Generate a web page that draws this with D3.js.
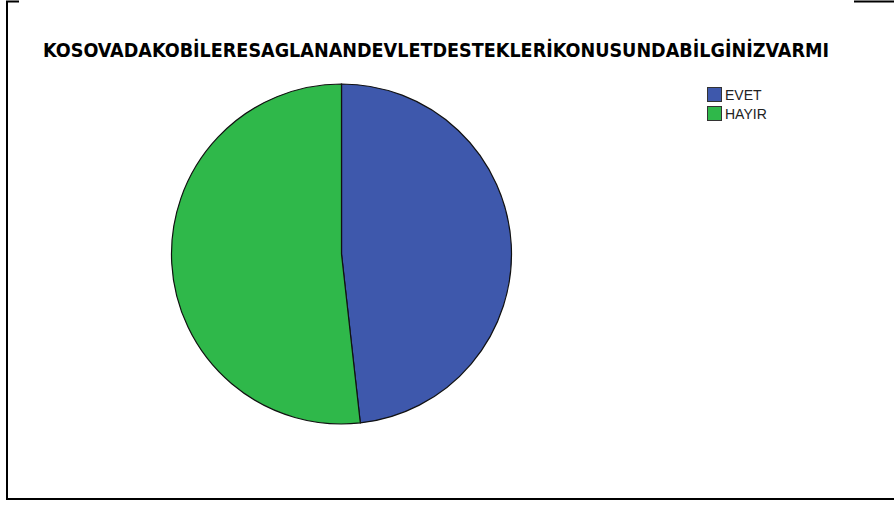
<!DOCTYPE html>
<html>
<head>
<meta charset="utf-8">
<script src="https://cdn.jsdelivr.net/npm/d3@7"></script>
<style>
  html, body { margin: 0; padding: 0; background: #fff; }
  svg { display: block; }
</style>
</head>
<body>
<div id="chart"></div>
<script>
const title = 'KOSOVADAKOBİLERESAGLANANDEVLETDESTEKLERİKONUSUNDABİLGİNİZVARMI';
const categories = ['EVET', 'HAYIR'];
const counts = [41, 44];
const colors = ['#3e58ac', '#2fb84a'];

const width = 894, height = 508;
let svg = d3.select('#chart').append('svg')
    .attr('width', width)
    .attr('height', height);

// frame (only partly visible, like the export)
svg.append('path')
    .attr('d', 'M19,1.5 H7 V499 H894')
    .attr('fill', 'none')
    .attr('stroke', '#000')
    .attr('stroke-width', 2);
svg.append('line')
    .attr('x1', 854).attr('x2', 894)
    .attr('y1', 1.5).attr('y2', 1.5)
    .attr('stroke', '#000')
    .attr('stroke-width', 2);

svg.append('text')
    .attr('x', 43)
    .attr('y', 57)
    .attr('textLength', 786)
    .attr('lengthAdjust', 'spacingAndGlyphs')
    .style('font-family', '"Liberation Sans Narrow", "DejaVu Sans Condensed", Arial, sans-serif')
    .style('font-weight', 'bold')
    .style('font-size', '19px')
    .text(title);

let data = categories.map((c, i) => ({name: c, value: counts[i]}));
let pie = d3.pie().sort(null).value(d => d.value);
let arc = d3.arc().innerRadius(0).outerRadius(170);

let g = svg.append('g').attr('transform', 'translate(341.5,254)');
g.selectAll('path')
    .data(pie(data))
    .enter().append('path')
    .attr('d', arc)
    .attr('fill', (d, i) => colors[i])
    .attr('stroke', '#111')
    .attr('stroke-width', 1.2);

let color = d3.scaleOrdinal().domain(categories).range(colors);
let y = d3.scaleBand().domain(categories).range([86, 124]);

let legend = svg.selectAll('.legend')
    .data(categories)
    .enter().append('g')
    .attr('class', 'legend')
    .attr('transform', d => `translate(707,${y(d)})`);

legend.append('rect')
    .attr('x', 0.5).attr('y', 1.5)
    .attr('width', 14).attr('height', 14)
    .attr('fill', d => color(d))
    .attr('stroke', '#333')
    .attr('stroke-width', 1);

legend.append('text')
    .attr('x', 18)
    .attr('y', 14)
    .style('font-family', '"Liberation Sans", Arial, sans-serif')
    .style('font-size', '14px')
    .style('fill', '#222')
    .text(d => d);
</script>
</body>
</html>
